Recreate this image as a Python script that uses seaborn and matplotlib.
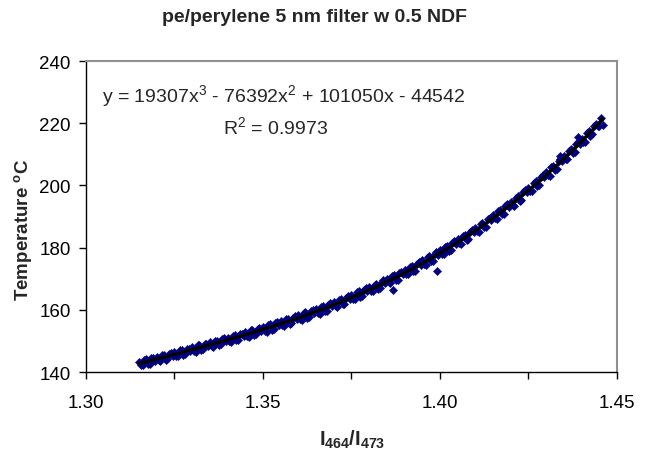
import numpy as np
import pandas as pd
import matplotlib
matplotlib.use("Agg")
import matplotlib.pyplot as plt
from matplotlib.ticker import MultipleLocator, FormatStrFormatter
import seaborn as sns

# intensity ratio I464/I473, first pass of readings
ratio_a = [
    1.315, 1.316, 1.317, 1.318, 1.319,
    1.320, 1.321, 1.322, 1.323, 1.324,
    1.325, 1.326, 1.327, 1.328, 1.329,
    1.330, 1.331, 1.332, 1.333, 1.334,
    1.335, 1.336, 1.337, 1.338, 1.339,
    1.340, 1.341, 1.342, 1.343, 1.344,
    1.345, 1.346, 1.347, 1.348, 1.349,
    1.350, 1.351, 1.352, 1.353, 1.354,
    1.355, 1.356, 1.357, 1.358, 1.359,
    1.360, 1.361, 1.362, 1.363, 1.364,
    1.365, 1.366, 1.367, 1.368, 1.369,
    1.370, 1.371, 1.372, 1.373, 1.374,
    1.375, 1.376, 1.377, 1.378, 1.379,
    1.380, 1.381, 1.382, 1.383, 1.384,
    1.385, 1.386, 1.387, 1.388, 1.389,
    1.390, 1.391, 1.392, 1.393, 1.394,
    1.395, 1.396, 1.397, 1.398, 1.399,
    1.400, 1.401, 1.402, 1.403, 1.404,
    1.405, 1.406, 1.407, 1.408, 1.409,
    1.410, 1.411, 1.412, 1.413, 1.414,
    1.415, 1.416, 1.417, 1.418, 1.419,
    1.420, 1.421, 1.422, 1.423, 1.424,
    1.425, 1.426, 1.427, 1.428, 1.429,
    1.430, 1.431, 1.432, 1.433, 1.434,
    1.435, 1.436, 1.437, 1.438, 1.439,
    1.440, 1.441, 1.442, 1.443, 1.444, 1.445,
    1.3867, 1.3992, 1.4339, 1.4390, 1.4460, 1.4455,
]

# temperature in deg C, first pass
temp_a = [
    143.3, 142.3, 144.1, 142.7, 144.4,
    144.9, 143.6, 145.5, 144.2, 146.0,
    146.4, 145.1, 147.2, 145.7, 147.4,
    147.9, 146.5, 148.6, 147.3, 149.1,
    149.5, 148.0, 150.1, 148.9, 150.8,
    151.0, 149.7, 151.9, 150.4, 152.3,
    152.8, 151.3, 153.6, 152.1, 154.2,
    154.5, 153.0, 155.3, 153.8, 156.0,
    156.3, 154.8, 157.2, 155.7, 157.9,
    158.3, 156.8, 159.2, 157.6, 159.9,
    160.4, 158.8, 161.3, 159.7, 162.1,
    162.5, 161.0, 163.5, 162.0, 164.4,
    164.9, 163.4, 165.9, 164.3, 166.9,
    167.4, 165.9, 168.4, 166.9, 169.5,
    170.0, 168.5, 171.2, 169.7, 172.3,
    172.9, 171.4, 174.1, 172.6, 175.3,
    175.9, 174.5, 177.2, 175.8, 178.6,
    179.2, 177.8, 180.6, 179.1, 182.0,
    182.7, 181.3, 184.2, 182.8, 185.7,
    186.4, 185.1, 188.0, 186.7, 189.6,
    190.4, 189.2, 192.1, 190.9, 193.9,
    194.7, 193.5, 196.6, 195.3, 198.4,
    199.3, 198.1, 201.3, 200.1, 203.2,
    204.2, 203.1, 206.3, 205.2, 208.4,
    209.4, 208.4, 211.7, 210.6, 213.9,
    215.0, 214.0, 217.4, 216.4, 219.7, 219.0,
    166.4, 172.5, 209.5, 215.6, 219.4, 221.8,
]

# second pass of readings, between the first ones
ratio_b = [
    1.3155, 1.3165, 1.3175, 1.3185, 1.3195,
    1.3205, 1.3215, 1.3225, 1.3235, 1.3245,
    1.3255, 1.3265, 1.3275, 1.3285, 1.3295,
    1.3305, 1.3315, 1.3325, 1.3335, 1.3345,
    1.3355, 1.3365, 1.3375, 1.3385, 1.3395,
    1.3405, 1.3415, 1.3425, 1.3435, 1.3445,
    1.3455, 1.3465, 1.3475, 1.3485, 1.3495,
    1.3505, 1.3515, 1.3525, 1.3535, 1.3545,
    1.3555, 1.3565, 1.3575, 1.3585, 1.3595,
    1.3605, 1.3615, 1.3625, 1.3635, 1.3645,
    1.3655, 1.3665, 1.3675, 1.3685, 1.3695,
    1.3705, 1.3715, 1.3725, 1.3735, 1.3745,
    1.3755, 1.3765, 1.3775, 1.3785, 1.3795,
    1.3805, 1.3815, 1.3825, 1.3835, 1.3845,
    1.3855, 1.3865, 1.3875, 1.3885, 1.3895,
    1.3905, 1.3915, 1.3925, 1.3935, 1.3945,
    1.3955, 1.3965, 1.3975, 1.3985, 1.3995,
    1.4005, 1.4015, 1.4025, 1.4035, 1.4045,
    1.4055, 1.4065, 1.4075, 1.4085, 1.4095,
    1.4105, 1.4115, 1.4125, 1.4135, 1.4145,
    1.4155, 1.4165, 1.4175, 1.4185, 1.4195,
    1.4205, 1.4215, 1.4225, 1.4235, 1.4245,
    1.4255, 1.4265, 1.4275, 1.4285, 1.4295,
    1.4305, 1.4315, 1.4325, 1.4335, 1.4345,
    1.4355, 1.4365, 1.4375, 1.4385, 1.4395,
    1.4405, 1.4415, 1.4425, 1.4435, 1.4445,
]

temp_b = [
    142.4, 144.0, 142.5, 144.4, 143.7,
    143.8, 145.6, 144.0, 145.9, 145.2,
    145.3, 147.0, 145.5, 147.4, 146.7,
    146.8, 148.6, 147.0, 148.9, 148.3,
    148.3, 150.1, 148.6, 150.5, 149.9,
    149.9, 151.7, 150.2, 152.1, 151.5,
    151.6, 153.4, 151.9, 153.8, 153.2,
    153.3, 155.1, 153.6, 155.6, 155.0,
    155.1, 157.0, 155.5, 157.5, 156.9,
    157.0, 158.9, 157.4, 159.5, 158.9,
    159.1, 161.0, 159.5, 161.6, 161.1,
    161.3, 163.2, 161.8, 163.9, 163.4,
    163.6, 165.6, 164.2, 166.3, 165.9,
    166.1, 168.1, 166.8, 169.0, 168.5,
    168.8, 170.8, 169.5, 171.8, 171.4,
    171.6, 173.7, 172.5, 174.8, 174.4,
    174.7, 176.9, 175.6, 178.0, 177.7,
    178.0, 180.2, 179.0, 181.4, 181.1,
    181.5, 183.8, 182.6, 185.1, 184.9,
    185.3, 187.6, 186.5, 189.1, 188.9,
    189.4, 191.7, 190.7, 193.3, 193.2,
    193.7, 196.1, 195.1, 197.8, 197.8,
    198.3, 200.8, 199.9, 202.6, 202.6,
    203.2, 205.8, 204.9, 207.7, 207.8,
    208.5, 211.1, 210.3, 213.2, 213.3,
    214.1, 216.7, 216.0, 219.0, 219.2,
]

title = "pe/perylene 5 nm filter w 0.5 NDF"
equation = r"y = 19307x$^{3}$ - 76392x$^{2}$ + 101050x - 44542"
r_squared = r"R$^{2}$ = 0.9973"

df = pd.DataFrame({"ratio": ratio_a + ratio_b, "temp": temp_a + temp_b})

sns.set_style("ticks")
plt.rcParams["font.family"] = ["Liberation Sans", "DejaVu Sans"]
plt.rcParams["mathtext.fontset"] = "custom"
plt.rcParams["mathtext.rm"] = "Liberation Sans"
plt.rcParams["mathtext.it"] = "Liberation Sans:italic"
plt.rcParams["mathtext.bf"] = "Liberation Sans:bold"

fig = plt.figure(figsize=(6.52, 4.60), dpi=100)
ax = fig.add_axes([0.1319, 0.1891, 0.8144, 0.6761])

sns.scatterplot(data=df, x="ratio", y="temp", ax=ax, marker="D", s=18,
                color="#000080", edgecolor="#000080", linewidth=0.3, zorder=2)
sns.regplot(data=df, x="ratio", y="temp", ax=ax, order=3, scatter=False, ci=None,
            line_kws=dict(color="black", lw=2.4, zorder=3))

ax.set_xlim(1.30, 1.45)
ax.set_ylim(140, 240)
ax.xaxis.set_major_locator(MultipleLocator(0.05))
ax.xaxis.set_minor_locator(MultipleLocator(0.025))
ax.xaxis.set_major_formatter(FormatStrFormatter("%.2f"))
ax.yaxis.set_major_locator(MultipleLocator(20))
ax.tick_params(axis="both", which="both", direction="out", length=5, width=1,
               color="black", labelsize=13.5, labelcolor="black")
ax.tick_params(axis="x", pad=11)
ax.tick_params(axis="y", pad=6)
ax.set_xlabel("")
ax.set_ylabel("")

for side in ["left", "bottom"]:
    ax.spines[side].set_color("black")
    ax.spines[side].set_linewidth(1)
for side in ["top", "right"]:
    ax.spines[side].set_visible(True)
    ax.spines[side].set_color("#909090")
    ax.spines[side].set_linewidth(1.5)

ax.text(0.03, 0.89, equation, transform=ax.transAxes, fontsize=14,
        ha="left", va="center")
ax.text(0.258, 0.79, r_squared, transform=ax.transAxes, fontsize=14,
        ha="left", va="center")

fig.text(0.483, 0.961, title, fontsize=14, fontweight="bold", ha="center", va="center")
fig.text(0.54, 0.043, r"$\mathbf{I_{464}/I_{473}}$", fontsize=14.5, ha="center", va="center")
fig.text(0.036, 0.5, r"Temperature $^{\mathbf{o}}$C", fontsize=13.5, fontweight="bold",
         rotation=90, ha="center", va="center")

fig.savefig("out.png", dpi=100)
